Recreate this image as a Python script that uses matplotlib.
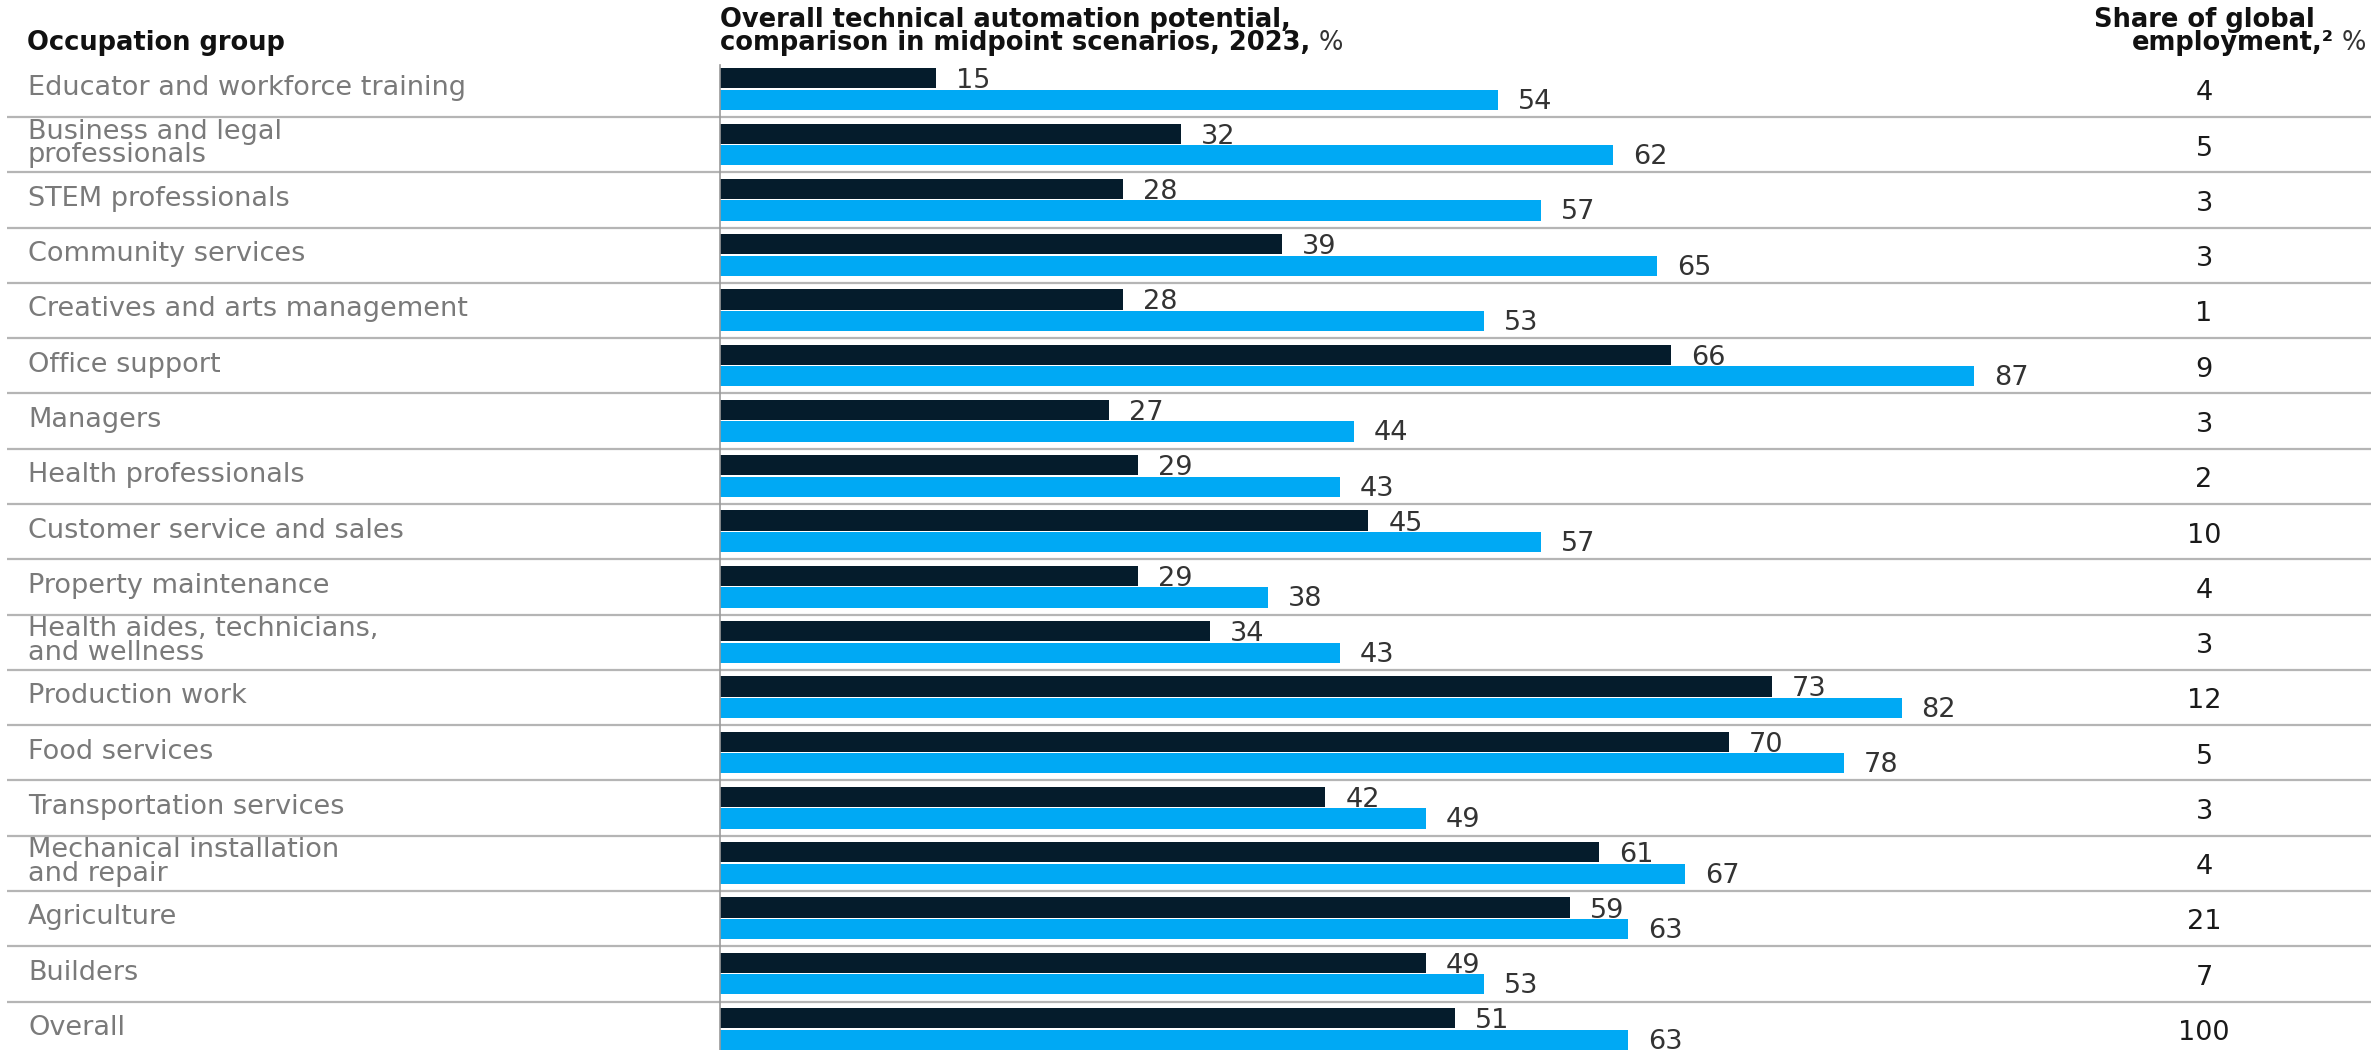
import matplotlib
matplotlib.use("Agg")
import matplotlib.pyplot as plt
import numpy as np

categories = [
    "Educator and workforce training",
    "Business and legal\nprofessionals",
    "STEM professionals",
    "Community services",
    "Creatives and arts management",
    "Office support",
    "Managers",
    "Health professionals",
    "Customer service and sales",
    "Property maintenance",
    "Health aides, technicians,\nand wellness",
    "Production work",
    "Food services",
    "Transportation services",
    "Mechanical installation\nand repair",
    "Agriculture",
    "Builders",
    "Overall",
]
potential_before = [15, 32, 28, 39, 28, 66, 27, 29, 45, 29, 34, 73, 70, 42, 61, 59, 49, 51]
potential_after = [54, 62, 57, 65, 53, 87, 44, 43, 57, 38, 43, 82, 78, 49, 67, 63, 53, 63]
employment_share = [4, 5, 3, 3, 1, 9, 3, 2, 10, 4, 3, 12, 5, 3, 4, 21, 7, 100]

header_left = "Occupation group"
header_mid = ["Overall technical automation potential,", "comparison in midpoint scenarios, 2023,"]
header_right = ["Share of global", "employment,\u00b2"]

DARK = "#051C2C"
BLUE = "#00A9F4"
LABEL_GRAY = "#7a7a7a"
SEP_GRAY = "#b5b5b5"

W, H, DPI = 2371, 1050, 100
plt.rcParams['font.family'] = ['DejaVu Sans']
FS = 19.5
HFS = 18.5

fig = plt.figure(figsize=(W / DPI, H / DPI), dpi=DPI)
ax = fig.add_axes([0, 0, 1, 1])
ax.set_axis_off()

PX_PER_UNIT = 14.41
X0 = 720
ROW = 55.28
Y0 = 89.4
ax.set_xlim(-X0 / PX_PER_UNIT, (W - X0) / PX_PER_UNIT)
ax.set_ylim((H - Y0) / ROW, -Y0 / ROW)

n = len(categories)
y = np.arange(n)
bh = 0.365
ax.barh(y - 0.2, potential_before, height=bh, color=DARK, zorder=3)
ax.barh(y + 0.19, potential_after, height=bh, color=BLUE, zorder=3)

# separators
for i in range(n - 1):
    ax.plot([7 / W, 1], [i + 0.5, i + 0.5], transform=ax.get_yaxis_transform(),
            color=SEP_GRAY, lw=1.6, zorder=1, solid_capstyle='butt')
# baseline axis
ax.plot([0, 0], [-0.45, n + 1], color="#9a9a9a", lw=1.2, zorder=4)

off = 20 / PX_PER_UNIT
for i in range(n):
    ax.text(potential_before[i] + off, i - 0.2, str(potential_before[i]), ha='left',
            va='center_baseline', fontsize=FS, color="#333333")
    ax.text(potential_after[i] + off, i + 0.17, str(potential_after[i]), ha='left',
            va='center_baseline', fontsize=FS, color="#333333")
    ax.text(28 / W, i - 0.02, categories[i], transform=ax.get_yaxis_transform(), ha='left',
            va='center', fontsize=FS, color=LABEL_GRAY, linespacing=0.88)
    ax.text(2204 / W, i + 0.07, str(employment_share[i]), transform=ax.get_yaxis_transform(),
            ha='center', va='center', fontsize=FS, color="#1a1a1a")

# headers (figure pixel coordinates from top)
def fy(py):
    return 1 - py / H

fig.text(27 / W, fy(50), header_left, ha='left', va='baseline', fontsize=HFS,
         fontweight='bold', color="#111111")
fig.text(720 / W, fy(27), header_mid[0], ha='left', va='baseline', fontsize=HFS,
         fontweight='bold', color="#111111")
t2 = fig.text(720 / W, fy(50), header_mid[1], ha='left', va='baseline', fontsize=HFS,
              fontweight='bold', color="#111111")
fig.text(2204 / W, fy(27), header_right[0], ha='center', va='baseline', fontsize=HFS,
         fontweight='bold', color="#111111")

fig.canvas.draw()
r = fig.canvas.get_renderer()
bb = t2.get_window_extent(r)
fig.text((bb.x1 + 8) / W, fy(50), "%", ha='left', va='baseline', fontsize=HFS,
         color="#333333")
pct = fig.text(2366 / W, fy(50), "%", ha='right', va='baseline', fontsize=HFS,
               color="#333333")
fig.canvas.draw()
pb = pct.get_window_extent(r)
fig.text((pb.x0 - 8) / W, fy(50), header_right[1], ha='right', va='baseline', fontsize=HFS,
         fontweight='bold', color="#111111")

fig.savefig("out.png", dpi=DPI)
